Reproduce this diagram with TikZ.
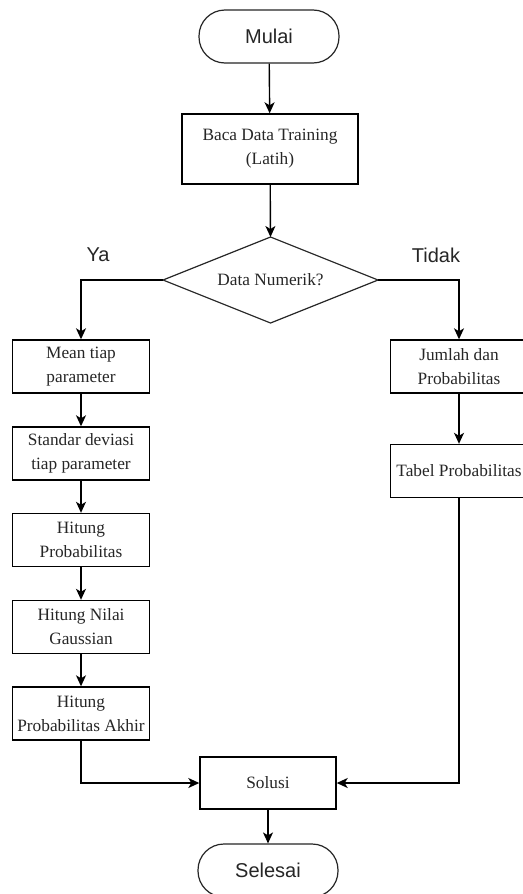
\documentclass[tikz,border=0pt]{standalone}
\usepackage{fontspec}
\setmainfont{Liberation Serif}
\newfontfamily\labelsans{Liberation Sans}
\usetikzlibrary{arrows.meta}
\begin{document}
\begin{tikzpicture}[x=1pt,y=-1pt,
  every node/.style={text=black!85},
  box/.style={draw=black, line width=1.4pt, minimum width=137pt, minimum height=53pt, align=center, inner sep=0pt, font=\fontsize{17.3}{24}\selectfont},
  term/.style={draw=black!85, line width=1.2pt, rounded corners=26pt, minimum width=140pt, minimum height=53pt, inner sep=0pt, font=\labelsans\fontsize{20}{24}\selectfont},
  decisionline/.style={draw=black!85, line width=1.2pt, line join=miter},
  dectext/.style={inner sep=0pt, font=\fontsize{17.3}{24}\selectfont},
  lbl/.style={font=\labelsans\fontsize{20}{24}\selectfont},
  arr/.style={draw=black, line width=1.4pt, -{Stealth[length=11pt,width=10pt,inset=3pt]}}
]
\useasboundingbox[fill=white] (0,0) rectangle (522,894);

\node[term] (mulai) at (269,36.5) {Mulai};
\node[box, minimum width=176pt, minimum height=70pt] (baca) at (270,149) {Baca Data Training\\(Latih)};

% decision diamond
\coordinate (decN) at (270.5,237);
\coordinate (decE) at (378,280);
\coordinate (decS) at (270.5,323);
\coordinate (decW) at (163,280);
\draw[decisionline] (decN) -- (decE) -- (decS) -- (decW) -- cycle;
\node[dectext] (dec) at (270.5,280) {Data Numerik?};

\node[lbl] (ya) at (98,255) {Ya};
\node[lbl] (tidak) at (436,255) {Tidak};

\node[box] (mean) at (81,366.5) {Mean tiap\\parameter};
\node[box] (std) at (81,453.5) {Standar deviasi\\tiap parameter};
\node[box] (hprob) at (81,540) {Hitung\\Probabilitas};
\node[box] (hgauss) at (81,627) {Hitung Nilai\\Gaussian};
\node[box] (akhir) at (81,713.5) {Hitung\\Probabilitas Akhir};

\node[box] (jml) at (459,366.5) {Jumlah dan\\Probabilitas};
\node[box] (tabel) at (459,471) {Tabel Probabilitas};

\node[box, minimum width=136pt, minimum height=52pt] (sol) at (268,783) {Solusi};
\node[term] (selesai) at (268,870.5) {Selesai};

\draw[arr] (mulai) -- (baca);
\draw[arr] (baca) -- (decN);
\draw[arr] (decW) -| (mean.north);
\draw[arr] (decE) -| (jml.north);
\draw[arr] (mean) -- (std);
\draw[arr] (std) -- (hprob);
\draw[arr] (hprob) -- (hgauss);
\draw[arr] (hgauss) -- (akhir);
\draw[arr] (jml) -- (tabel);
\draw[arr] (akhir.south) |- (sol.west);
\draw[arr] (tabel.south) |- (sol.east);
\draw[arr] (sol) -- (selesai);
\end{tikzpicture}
\end{document}
